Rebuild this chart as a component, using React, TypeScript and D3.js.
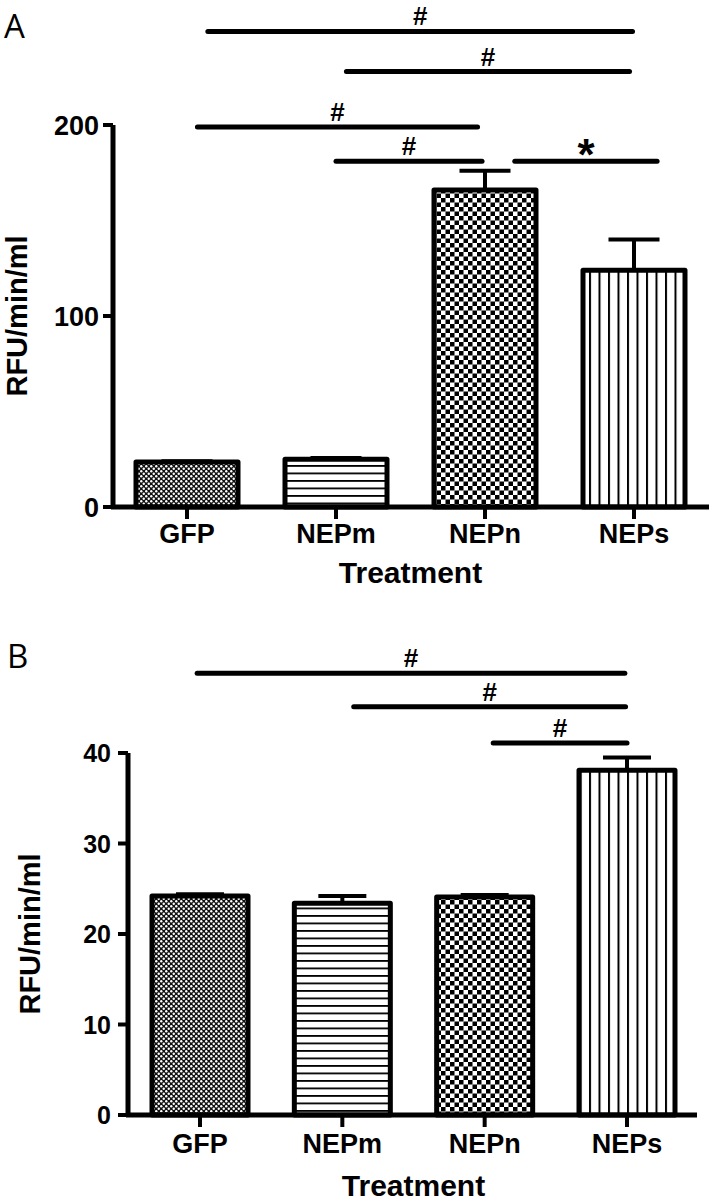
import React from "react";
import * as d3 from "d3";

const categories = ["GFP", "NEPm", "NEPn", "NEPs"];
const meansA = [23.5, 25, 166, 124];
const semA = [0.4, 0.6, 10, 16];
const ticksA = [0, 100, 200];
const meansB = [24.2, 23.4, 24.1, 38.1];
const semB = [0.2, 0.8, 0.2, 1.4];
const ticksB = [0, 10, 20, 30, 40];
const patterns = ["pGFP", "pNEPm", "pNEPn", "pNEPs"];

// significance annotations: from/to categories, height in data units, label
const sigFromA = ["GFP", "NEPm", "GFP", "NEPm", "NEPn"];
const sigToA = ["NEPs", "NEPs", "NEPn", "NEPn", "NEPs"];
const sigYA = [249, 228, 199, 181, 181];
const sigLabelA = ["#", "#", "#", "#", "*"];
const sigFromB = ["GFP", "NEPm", "NEPn"];
const sigToB = ["NEPs", "NEPs", "NEPs"];
const sigYB = [48.8, 45.1, 41.1];
const sigLabelB = ["#", "#", "#"];

const FONT = "'Liberation Sans', Arial, sans-serif";

function Panel(props: any) {
  const { letter, means, sem, ticks, yDomain, yRange, xRange, axisX, axisEnd, barW,
    sigFrom, sigTo, sigY, sigLabel, sigOff, letterPos, labelDy, titleDy, tickFont, tickGap, titleX } = props;
  const x = d3.scalePoint<string>().domain(categories).range(xRange);
  const y = d3.scaleLinear().domain(yDomain).range(yRange);
  const y0 = y(0);
  const step = x.step();
  const yMid = (yRange[0] + yRange[1]) / 2;
  return (
    <g>
      <text x={letterPos[0]} y={letterPos[1]} fontFamily="'Open Sans', 'DejaVu Sans', sans-serif" fontSize={33}>{letter}</text>
      {sigFrom.map((f: string, i: number) => {
        const x1 = (x(f) as number) + sigOff[i][0] * step;
        const x2 = (x(sigTo[i]) as number) + sigOff[i][1] * step;
        const yy = y(sigY[i]);
        const isStar = sigLabel[i] === "*";
        return (
          <g key={"s" + i}>
            <line x1={x1} x2={x2} y1={yy} y2={yy} stroke="#000" strokeWidth={5} strokeLinecap="round" />
            <text x={(x1 + x2) / 2} y={isStar ? yy + 9 : yy - 6} textAnchor="middle" fontFamily={FONT}
              fontWeight="bold" fontSize={isStar ? 44 : 26}>{sigLabel[i]}</text>
          </g>
        );
      })}
      {categories.map((c, i) => {
        const cx = x(c) as number;
        const top = y(means[i]);
        const et = y(means[i] + sem[i]);
        return (
          <g key={c}>
            <rect x={cx - barW / 2} y={top} width={barW} height={y0 - top} fill={`url(#${patterns[i]})`}
              stroke="#000" strokeWidth={5} strokeLinejoin="round" />
            <line x1={cx} x2={cx} y1={top} y2={et} stroke="#000" strokeWidth={4} />
            <line x1={cx - barW / 4} x2={cx + barW / 4} y1={et} y2={et} stroke="#000" strokeWidth={4} />
          </g>
        );
      })}
      <line x1={axisX} x2={axisX} y1={yRange[1]} y2={y0} stroke="#000" strokeWidth={5} />
      {ticks.map((t: number) => (
        <g key={t}>
          <line x1={axisX - 10} x2={axisX} y1={y(t)} y2={y(t)} stroke="#000" strokeWidth={4} />
          <text x={axisX - tickGap} y={y(t) + tickFont * 0.36} textAnchor="end" fontFamily={FONT} fontWeight="bold"
            fontSize={tickFont}>{t}</text>
        </g>
      ))}
      <line x1={axisX - 2} x2={axisEnd} y1={y0} y2={y0} stroke="#000" strokeWidth={5} />
      {categories.map((c) => (
        <g key={"xt" + c}>
          <line x1={x(c) as number} x2={x(c) as number} y1={y0} y2={y0 + 12} stroke="#000" strokeWidth={4} />
          <text x={x(c) as number} y={y0 + labelDy} textAnchor="middle" fontFamily={FONT} fontWeight="bold" fontSize={27}>{c}</text>
        </g>
      ))}
      <text x={(xRange[0] + xRange[1]) / 2} y={y0 + titleDy} textAnchor="middle" fontFamily={FONT} fontWeight="bold" fontSize={30}>Treatment</text>
      <text transform={`translate(${titleX},${yMid}) rotate(-90)`} textAnchor="middle" fontFamily={FONT}
        fontWeight="bold" fontSize={29} dy={10}>RFU/min/ml</text>
    </g>
  );
}

export default function App() {
  return (
    <svg width={712} height={1200} style={{ position: "absolute", left: 0, top: 0, background: "#fff" }}>
      <defs>
        <pattern id="pGFP" patternUnits="userSpaceOnUse" width={5} height={5}>
          <rect width={5} height={5} fill="#111" />
          <circle cx={1.25} cy={1.25} r={1.2} fill="#fff" />
          <circle cx={3.75} cy={3.75} r={1.2} fill="#fff" />
        </pattern>
        <pattern id="pNEPm" patternUnits="userSpaceOnUse" width={10} height={7.5}>
          <rect width={10} height={7.5} fill="#fff" />
          <rect y={0} width={10} height={1.8} fill="#000" />
        </pattern>
        <pattern id="pNEPn" patternUnits="userSpaceOnUse" width={9} height={9}>
          <rect width={9} height={9} fill="#fff" />
          <rect x={0} y={0} width={4.5} height={4.5} fill="#000" />
          <rect x={4.5} y={4.5} width={4.5} height={4.5} fill="#000" />
        </pattern>
        <pattern id="pNEPs" patternUnits="userSpaceOnUse" width={9.5} height={10}>
          <rect width={9.5} height={10} fill="#fff" />
          <rect x={0} width={2} height={10} fill="#000" />
        </pattern>
      </defs>
      <Panel letter="A" means={meansA} sem={semA} ticks={ticksA} yDomain={[0, 200]} yRange={[507, 125]}
        xRange={[187, 634]} axisX={113} axisEnd={709} barW={102}
        sigFrom={sigFromA} sigTo={sigToA} sigY={sigYA} sigLabel={sigLabelA}
        sigOff={[[0.14, -0.01], [0.07, -0.03], [0.07, -0.05], [0, -0.02], [0.2, 0.155]]}
        letterPos={[4, 38]} labelDy={36} titleDy={76} tickFont={27} tickGap={14} titleX={17} />
      <Panel letter="B" means={meansB} sem={semB} ticks={ticksB} yDomain={[0, 40]} yRange={[1115, 753]}
        xRange={[200, 627]} axisX={128} axisEnd={697} barW={96}
        sigFrom={sigFromB} sigTo={sigToB} sigY={sigYB} sigLabel={sigLabelB}
        sigOff={[[-0.02, -0.015], [0.08, -0.01], [0.06, 0]]}
        letterPos={[7, 668]} labelDy={38} titleDy={81} tickFont={25} tickGap={17} titleX={30} />
    </svg>
  );
}
